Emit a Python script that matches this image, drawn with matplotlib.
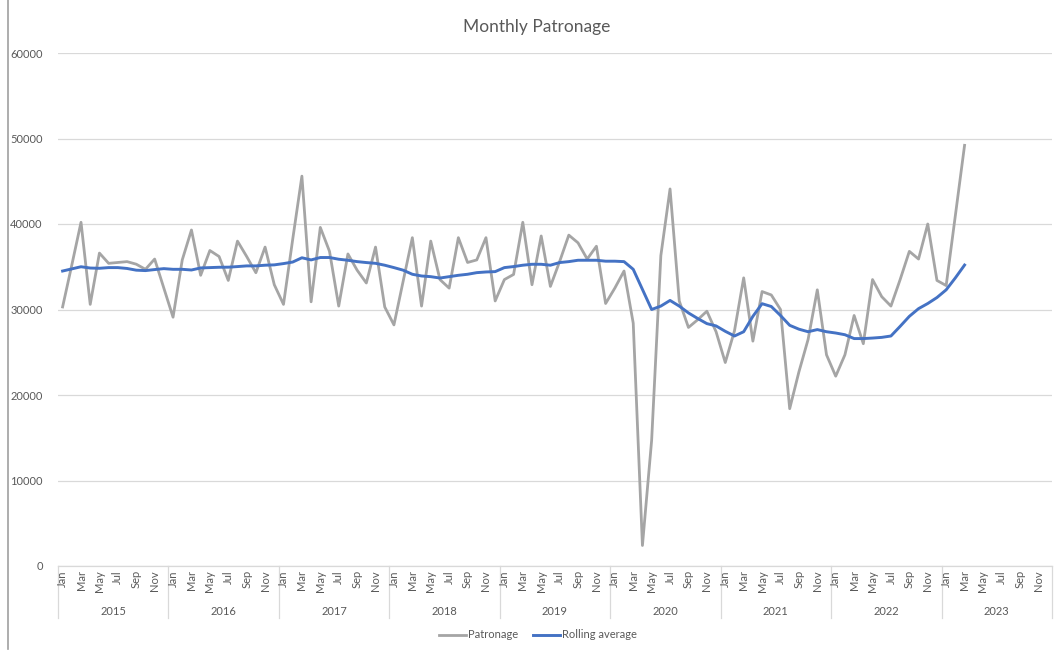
import matplotlib.pyplot as plt
from matplotlib.lines import Line2D

plt.rcParams['font.family'] = ['Lato', 'DejaVu Sans']

# Data (Jan 2015 .. Mar 2023)
years = ["2015", "2016", "2017", "2018", "2019", "2020", "2021", "2022", "2023"]
month_names = ["Jan", "Feb", "Mar", "Apr", "May", "Jun",
               "Jul", "Aug", "Sep", "Oct", "Nov", "Dec"]

patronage = [
    30300, 35200, 40200, 30600, 36600, 35400, 35500, 35600, 35300, 34700, 35900, 32500,  # 2015
    29100, 35800, 39300, 34000, 36900, 36200, 33400, 38000, 36200, 34300, 37300, 32900,  # 2016
    30600, 38200, 45600, 30900, 39600, 36800, 30400, 36500, 34600, 33100, 37300, 30300,  # 2017
    28200, 33300, 38400, 30400, 38000, 33500, 32500, 38400, 35500, 35800, 38400, 31000,  # 2018
    33500, 34100, 40200, 32900, 38600, 32700, 35600, 38700, 37800, 35900, 37400, 30700,  # 2019
    32500, 34500, 28400, 2400, 14700, 36300, 44100, 31000, 27900, 28800, 29800, 27400,   # 2020
    23800, 27500, 33700, 26300, 32100, 31700, 30000, 18400, 22700, 26500, 32300, 24700,  # 2021
    22200, 24700, 29300, 26000, 33500, 31500, 30400, 33500, 36800, 35900, 40000, 33400,  # 2022
    32800, 41000, 49200,                                                                 # 2023
]

rolling = [
    34500, 34750, 35000, 34850, 34820, 34900, 34900, 34800, 34600, 34550, 34670, 34780,
    34700, 34700, 34620, 34860, 34900, 34940, 34950, 35020, 35100, 35100, 35180, 35220,
    35370, 35550, 36050, 35800, 36080, 36080, 35880, 35760, 35600, 35490, 35400, 35180,
    34900, 34600, 34120, 33920, 33840, 33680, 33840, 34000, 34120, 34310, 34390, 34430,
    34900, 35020, 35180, 35290, 35290, 35180, 35490, 35600, 35760, 35760, 35760, 35650,
    35650, 35600, 34700, 32350, 30000, 30400, 31060, 30400, 29600, 28950, 28350, 28080,
    27450, 26900, 27400, 29200, 30680, 30350, 29300, 28150, 27700, 27400, 27650, 27400,
    27250, 27050, 26600, 26600, 26660, 26740, 26900, 28030, 29200, 30100, 30700, 31400,
    32300, 33700, 35200,
]

n_slots = 12 * len(years)
text_col = "#595959"
grid_col = "#d9d9d9"

fig = plt.figure(figsize=(10.55, 6.52), dpi=100)
ax = fig.add_axes([58 / 1055, (652 - 566) / 652, (1052 - 58) / 1055, (566 - 53) / 652])

x = list(range(len(patronage)))
ax.plot(x, patronage, color="#a5a5a5", lw=2.0, solid_joinstyle="round", zorder=3)
ax.plot(range(len(rolling)), rolling, color="#4472c4", lw=2.1, solid_joinstyle="round", zorder=4)

ax.set_xlim(-0.5, n_slots - 0.5)
ax.set_ylim(0, 60000)
ax.set_yticks(range(0, 60001, 10000))
ax.set_yticklabels([str(v) for v in range(0, 60001, 10000)], color=text_col, fontsize=8)
ax.tick_params(axis="y", length=0, pad=11)
ax.grid(axis="y", color=grid_col, lw=0.9)
ax.set_axisbelow(True)
for s in ["left", "right", "top"]:
    ax.spines[s].set_visible(False)
ax.spines["bottom"].set_color(grid_col)
ax.spines["bottom"].set_linewidth(0.9)

# month labels (every other month), rotated
ax.set_xticks([])
trans = ax.get_xaxis_transform()
for i in range(0, n_slots, 2):
    ax.text(i, -0.008, month_names[i % 12], transform=trans, rotation=90,
            ha="center", va="top", fontsize=8, color=text_col)

# year group labels and separators
for k, yr in enumerate(years):
    ax.text(12 * k + 5.5, -0.088, yr, transform=trans, ha="center", va="center",
            fontsize=8, color=text_col)
for k in range(len(years) + 1):
    ax.plot([12 * k - 0.5] * 2, [0, -0.101], transform=trans, color=grid_col,
            lw=0.9, clip_on=False)

fig.text(537 / 1055, 1 - 27 / 652, "Monthly Patronage", ha="center", va="center",
         fontsize=12.5, color=text_col)

# outer frame line on the left of the screenshot
fig.add_artist(Line2D([8 / 1055, 8 / 1055], [1, 3 / 652], color="#a0a0a0", lw=1.2))

handles = [Line2D([], [], color="#a5a5a5", lw=2.0), Line2D([], [], color="#4472c4", lw=2.1)]
fig.legend(handles, ["Patronage", "Rolling average"], loc="center",
           bbox_to_anchor=(538 / 1055, (652 - 635) / 652), ncol=2, frameon=False,
           fontsize=8, handlelength=2.4, handletextpad=0.2, columnspacing=1.3,
           labelcolor=text_col)

fig.savefig("out.png", dpi=100)
